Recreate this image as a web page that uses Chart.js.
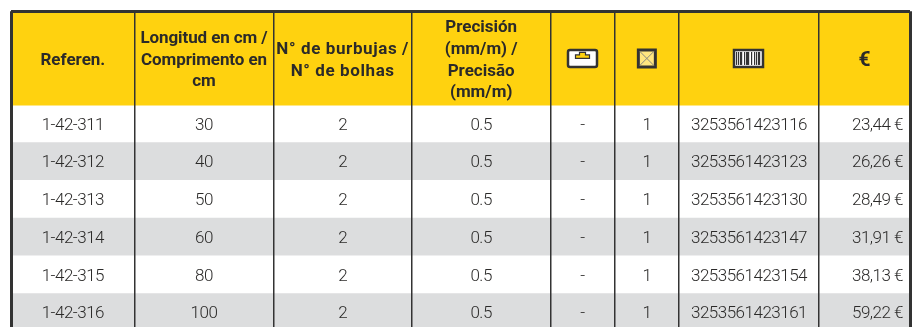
<!DOCTYPE html>
<html>
<head>
<meta charset="utf-8">
<style>
  html, body { margin: 0; padding: 0; background: #fff; }
  #wrap { width: 916px; height: 327px; }
</style>
<script src="https://cdn.jsdelivr.net/npm/chart.js@4"></script>
</head>
<body>
<div id="wrap"><canvas id="tableChart"></canvas></div>
<script>
const references = ['1-42-311', '1-42-312', '1-42-313', '1-42-314', '1-42-315', '1-42-316'];
const lengths = ['30', '40', '50', '60', '80', '100'];
const bubbles = ['2', '2', '2', '2', '2', '2'];
const precision = ['0.5', '0.5', '0.5', '0.5', '0.5', '0.5'];
const hangers = ['-', '-', '-', '-', '-', '-'];
const boxes = ['1', '1', '1', '1', '1', '1'];
const barcodes = ['3253561423116', '3253561423123', '3253561423130', '3253561423147', '3253561423154', '3253561423161'];
const prices = ['23,44 €', '26,26 €', '28,49 €', '31,91 €', '38,13 €', '59,22 €'];

const headers = [
    ['Referen.'],
    ['Longitud en cm /', 'Comprimento en', 'cm'],
    ['N° de burbujas /', 'N° de bolhas'],
    ['Precisión', '(mm/m) /', 'Precisão', '(mm/m)'],
    [],
    [],
    [],
    ['€']
];

// column edges, in the units of the x axis
const columnEdges = [0, 123.7, 262.3, 401, 539.3, 603.7, 668, 808, 899];
const columns = [references, lengths, bubbles, precision, hangers, boxes, barcodes, prices];
const headerSpacing = ['0px', '-0.1px', '0.6px', '0px', '0px', '0px', '0px', '0px'];

const DARK = '#333333';
const BODY_FONT = '300 17px Roboto, sans-serif';
const HEAD_FONT = 'bold 17px Roboto, sans-serif';
const EURO_FONT = 'bold 21px Roboto, sans-serif';

const tableWidth = columnEdges[columnEdges.length - 1];
const rowBands = references.map((ref, i) => ({ x: [0, tableWidth], y: i + 0.5 }));

const tableText = {
    id: 'tableText',
    afterDraw(chart) {
        const ctx = chart.ctx;
        const x = chart.scales.x;
        const y = chart.scales.y;
        const center = i => x.getPixelForValue((columnEdges[i] + columnEdges[i + 1]) / 2);
        const mid = y.getPixelForValue(-1.22);

        ctx.save();
        ctx.textBaseline = 'middle';
        ctx.textAlign = 'center';
        ctx.fillStyle = '#2b2a29';
        headers.forEach((lines, c) => {
            ctx.font = lines[0] === '€' ? EURO_FONT : HEAD_FONT;
            ctx.letterSpacing = headerSpacing[c];
            lines.forEach((line, l) => {
                ctx.fillText(line, center(c), mid + 1.5 + (l - (lines.length - 1) / 2) * 21.7);
            });
        });

        ctx.font = BODY_FONT;
        ctx.letterSpacing = '-0.5px';
        ctx.fillStyle = '#2b2a29';
        columns.forEach((values, c) => {
            values.forEach((value, r) => {
                const py = y.getPixelForValue(r + 0.5) + 1.5;
                if (c === columns.length - 1) {
                    ctx.textAlign = 'right';
                    ctx.fillText(value, x.getPixelForValue(columnEdges[c + 1]) - 7, py);
                } else {
                    ctx.textAlign = 'center';
                    ctx.fillText(value, center(c), py);
                }
            });
        });

        drawIcons(ctx, center(4), center(5), center(6), mid);
        ctx.restore();
    }
};

function drawIcons(ctx, hangX, boxX, codeX, midY) {
    // hang tab
    ctx.fillStyle = '#fff';
    ctx.strokeStyle = DARK;
    ctx.lineWidth = 2.5;
    ctx.beginPath();
    ctx.roundRect(hangX - 14.5, midY - 9, 29, 17, 2);
    ctx.fill();
    ctx.stroke();
    ctx.fillStyle = '#ffd20f';
    ctx.lineWidth = 1.2;
    ctx.beginPath();
    ctx.moveTo(hangX - 7, midY - 0.5);
    ctx.lineTo(hangX + 7, midY - 0.5);
    ctx.lineTo(hangX + 7, midY - 4);
    ctx.lineTo(hangX + 3, midY - 4);
    ctx.lineTo(hangX + 3, midY - 6.5);
    ctx.lineTo(hangX - 3, midY - 6.5);
    ctx.lineTo(hangX - 3, midY - 4);
    ctx.lineTo(hangX - 7, midY - 4);
    ctx.closePath();
    ctx.fill();
    ctx.stroke();

    // box
    ctx.lineWidth = 3;
    ctx.fillStyle = '#ffe680';
    ctx.beginPath();
    ctx.rect(boxX - 8.5, midY - 9, 17, 17);
    ctx.fill();
    ctx.stroke();
    ctx.strokeStyle = '#8a8a80';
    ctx.lineWidth = 1;
    ctx.beginPath();
    ctx.moveTo(boxX - 7, midY - 7.5);
    ctx.lineTo(boxX + 7, midY + 6.5);
    ctx.moveTo(boxX + 7, midY - 7.5);
    ctx.lineTo(boxX - 7, midY + 6.5);
    ctx.stroke();

    // barcode
    ctx.fillStyle = '#fff';
    ctx.strokeStyle = DARK;
    ctx.lineWidth = 2.5;
    ctx.beginPath();
    ctx.rect(codeX - 15, midY - 9, 29, 17);
    ctx.fill();
    ctx.stroke();
    ctx.fillStyle = '#333';
    const bars = [2, 4, 6, 7, 10, 12, 13, 14, 17, 20, 22, 24, 25];
    bars.forEach(b => ctx.fillRect(codeX - 15 + b, midY - 7, 1.2, 13));
}

new Chart(document.getElementById('tableChart'), {
    type: 'bar',
    data: {
        datasets: [
            {
                data: [{ x: [0, tableWidth], y: -1.24 }],
                backgroundColor: '#ffd20f',
                barThickness: 94,
                stack: 'table'
            },
            {
                data: rowBands,
                backgroundColor: references.map((ref, i) => i % 2 ? '#dcddde' : '#ffffff'),
                barThickness: 38,
                stack: 'table'
            }
        ]
    },
    options: {
        indexAxis: 'y',
        responsive: true,
        maintainAspectRatio: false,
        animation: false,
        layout: { padding: { left: 11, right: 6, top: 11.3, bottom: 0 } },
        scales: {
            x: {
                type: 'linear',
                stacked: true,
                min: 0,
                max: tableWidth,
                afterBuildTicks: axis => { axis.ticks = columnEdges.map(value => ({ value })); },
                ticks: { display: false },
                border: { display: false },
                grid: {
                    z: 1,
                    drawTicks: false,
                    color: DARK,
                    lineWidth: ctx => (ctx.index === 0 || ctx.index === columnEdges.length - 1) ? 3 : 1.5
                }
            },
            y: {
                type: 'linear',
                stacked: true,
                reverse: true,
                offset: false,
                min: -2.482,
                max: 5.881,
                afterBuildTicks: axis => { axis.ticks = [{ value: -2.482 }]; },
                ticks: { display: false },
                border: { display: false },
                grid: { z: 1, offset: false, drawTicks: false, color: DARK, lineWidth: 3 }
            }
        },
        plugins: {
            legend: { display: false },
            tooltip: { enabled: false }
        }
    },
    plugins: [tableText]
});
</script>
</body>
</html>
